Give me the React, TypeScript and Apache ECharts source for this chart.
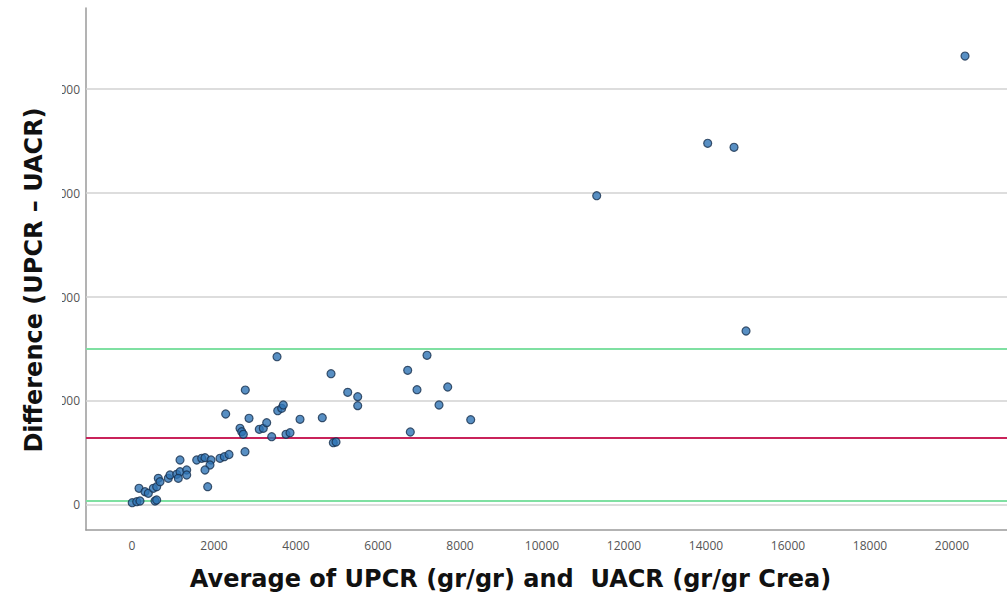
import React, { useEffect, useRef } from "react";
import * as echarts from "echarts";

// Average of UPCR and UACR (x) and their difference (y)
const avgValues = [
  5, 115, 195, 561, 602, 171, 317, 398, 520, 602, 641, 683, 885, 927, 1090, 1171,
  1129, 1334, 1334, 1171, 1578, 1700, 1780, 1927, 1902, 1780, 2146, 2251, 2366,
  1846, 2756, 2285, 2634, 2676, 2715, 2854, 3105, 3202, 3285, 3407, 3554, 3651,
  3690, 3756, 3854, 4098, 4641, 4910, 4976, 2763, 3537, 4854, 5261, 5505, 5505,
  6724, 7195, 6951, 7700, 7488, 8261, 6788, 11334, 14041, 14683, 20317, 14976,
];
const diffValues = [
  44, 63, 77, 77, 96, 321, 256, 225, 321, 352, 513, 448, 513, 577, 590, 640,
  513, 673, 577, 865, 865, 898, 910, 865, 769, 673, 898, 929, 971,
  352, 1025, 1750, 1475, 1410, 1360, 1667, 1456, 1475, 1583, 1313, 1813, 1860,
  1923, 1360, 1390, 1648, 1679, 1198, 1211, 2211, 2852, 2525, 2167, 2083, 1910,
  2590, 2879, 2217, 2269, 1923, 1640, 1404, 5948, 6956, 6879, 8634, 3346,
];

const xTicks = [0, 2000, 4000, 6000, 8000, 10000, 12000, 14000, 16000, 18000, 20000];
const yTicks = [0, 2000, 4000, 6000, 8000];

const meanDifference = 1290;
const upperLimit = 3010;
const lowerLimit = 80;

const xTitle = "Average of UPCR (gr/gr) and  UACR (gr/gr Crea)";
const yTitle = "Difference (UPCR \u2013 UACR)";

export default function App() {
  const ref = useRef<HTMLDivElement>(null);

  useEffect(() => {
    if (!ref.current) return;
    const chart = echarts.init(ref.current, null, { renderer: "svg" });
    const points = avgValues.map((x, i) => [x, diffValues[i]]);
    const gridLines = yTicks.map((v) => ({
      yAxis: v,
      lineStyle: { color: "#d2d2d2", width: 1.5, type: "solid" },
    }));
    const plain = (v: number) => String(v);
    chart.setOption({
      animation: false,
      backgroundColor: "#ffffff",
      grid: {
        left: 86,
        right: 0,
        top: 8,
        bottom: 63,
        containLabel: false,
        outerBoundsMode: "none",
      },
      xAxis: {
        type: "value",
        min: -1122,
        max: 21341,
        name: xTitle,
        nameLocation: "middle",
        nameGap: 37,
        nameTextStyle: {
          fontFamily: "DejaVu Sans",
          fontWeight: "bold",
          fontSize: 24,
          color: "#111",
          padding: [0, 72, 0, 0],
        },
        axisLine: { show: true, onZero: false, lineStyle: { color: "#9a9a9a", width: 1.5 } },
        axisTick: { show: false },
        splitLine: { show: false },
        axisLabel: {
          customValues: xTicks,
          formatter: plain,
          fontFamily: "Open Sans",
          fontSize: 12,
          color: "#555",
          margin: 9,
        },
      },
      yAxis: {
        type: "value",
        min: -481,
        max: 9558,
        axisLine: { show: true, onZero: false, lineStyle: { color: "#9a9a9a", width: 1.5 } },
        axisTick: { show: false },
        splitLine: { show: false },
        axisLabel: {
          customValues: yTicks,
          formatter: plain,
          fontFamily: "Open Sans",
          fontSize: 12,
          color: "#555",
          margin: 6,
        },
      },
      graphic: [
        {
          type: "rect",
          z: 100,
          silent: true,
          shape: { x: 0, y: 0, width: 62, height: 525 },
          style: { fill: "#ffffff" },
        },
        {
          type: "text",
          z: 101,
          silent: true,
          x: 34,
          y: 280,
          rotation: Math.PI / 2,
          style: {
            text: yTitle,
            fontFamily: "DejaVu Sans",
            fontWeight: "bold",
            fontSize: 24,
            fill: "#111",
            align: "center",
            verticalAlign: "middle",
          },
        },
      ],
      series: [
        {
          type: "scatter",
          z: 3,
          data: points,
          symbol: "circle",
          symbolSize: 8,
          itemStyle: { color: "#2e73b4", borderColor: "#17304d", borderWidth: 1.2 },
          markLine: {
            z: 1,
            silent: true,
            symbol: "none",
            label: { show: false },
            data: [
              ...gridLines,
              { yAxis: upperLimit, lineStyle: { color: "#7fe0a2", width: 2, type: "solid" } },
              { yAxis: meanDifference, lineStyle: { color: "#c9235a", width: 2, type: "solid" } },
              { yAxis: lowerLimit, lineStyle: { color: "#7fe0a2", width: 2, type: "solid" } },
            ],
          },
        },
      ],
    });
    return () => chart.dispose();
  }, []);

  return (
    <div
      ref={ref}
      style={{ position: "absolute", left: 0, top: 0, width: 1007, height: 593 }}
    />
  );
}
